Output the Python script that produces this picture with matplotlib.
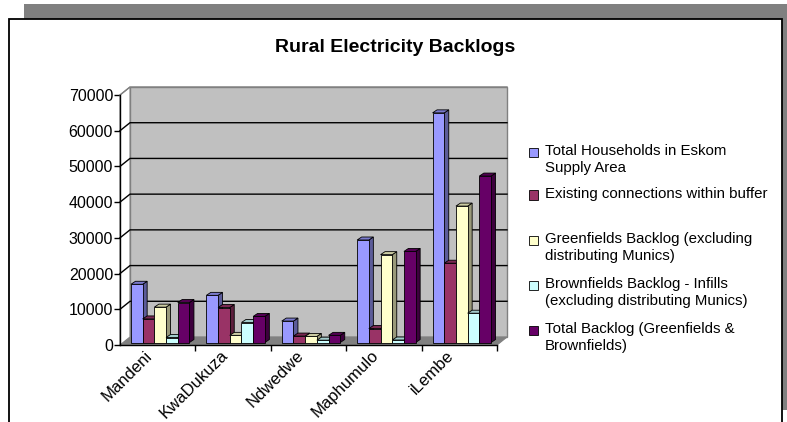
import numpy as np
import matplotlib.pyplot as plt
from matplotlib.patches import Rectangle, Polygon
from matplotlib.colors import to_rgb

plt.rcParams['font.family'] = ['Liberation Sans', 'DejaVu Sans']

regions = ['Mandeni', 'KwaDukuza', 'Ndwedwe', 'Maphumulo', 'iLembe']
total_households = [16300, 13200, 6000, 28700, 64300]
existing_connections = [6600, 9800, 1800, 3900, 22200]
greenfields_backlog = [9900, 2000, 1700, 24600, 38200]
brownfields_backlog = [1400, 5600, 650, 700, 8200]
total_backlog = [11200, 7300, 2000, 25500, 46600]

series_labels = [
    'Total Households in Eskom\nSupply Area',
    'Existing connections within buffer',
    'Greenfields Backlog (excluding\ndistributing Munics)',
    'Brownfields Backlog - Infills\n(excluding distributing Munics)',
    'Total Backlog (Greenfields &\nBrownfields)',
]
series = [total_households, existing_connections, greenfields_backlog,
          brownfields_backlog, total_backlog]
colors = ['#9999FF', '#993366', '#FFFFCC', '#CCFFFF', '#660066']

W, H, DPI = 787, 422, 100
fig = plt.figure(figsize=(W / DPI, H / DPI), dpi=DPI)


def px_rect(x0, y0, x1, y1):
    # pixel box (origin top-left) -> figure fraction [l, b, w, h]
    return [x0 / W, 1 - y1 / H, (x1 - x0) / W, (y1 - y0) / H]


# chart frame with drop shadow
l, b, w, h = px_rect(24, 4, 787, 410)
fig.add_artist(Rectangle((l, b), w, h, transform=fig.transFigure,
                         facecolor='#808080', edgecolor='none', zorder=-2))
l, b, w, h = px_rect(9, 19, 782, 440)
fig.add_artist(Rectangle((l, b), w, h, transform=fig.transFigure,
                         facecolor='white', edgecolor='black', lw=1.3, zorder=-1))

fig.text(395 / W, 1 - 47 / H, 'Rural Electricity Backlogs', ha='center', va='center',
         fontsize=14, fontweight='bold')

# front plane of the plot area
ax_l, ax_t, ax_r, ax_b = 120, 95, 497, 345
ax = fig.add_axes(px_rect(ax_l, ax_t, ax_r, ax_b))
ymax = 70000
ncat = len(regions)
ax.set_xlim(0, ncat)
ax.set_ylim(0, ymax)
ax.patch.set_visible(False)
for s in ['top', 'right']:
    ax.spines[s].set_visible(False)
for s in ['left', 'bottom']:
    ax.spines[s].set_color('black')
    ax.spines[s].set_linewidth(1.0)
    ax.spines[s].set_zorder(30)

# data units per pixel
sx = ncat / (ax_r - ax_l)
sy = ymax / (ax_b - ax_t)

# wall depth
WX, WY = 10 * sx, 8 * sy
ax.add_patch(Polygon([(WX, WY), (ncat + WX, WY), (ncat + WX, ymax + WY), (WX, ymax + WY)],
                     facecolor='#C0C0C0', edgecolor='#808080', lw=1.0, zorder=1, clip_on=False))
ax.add_patch(Polygon([(0, 0), (ncat, 0), (ncat + WX, WY), (WX, WY)],
                     facecolor='#808080', edgecolor='#808080', lw=0.8, zorder=1, clip_on=False))
ax.add_patch(Polygon([(0, 0), (WX, WY), (WX, ymax + WY), (0, ymax)],
                     facecolor='white', edgecolor='#808080', lw=0.8, zorder=1, clip_on=False))

yticks = np.arange(0, ymax + 1, 10000)
for yv in yticks[1:]:
    col = '#808080' if yv == ymax else 'black'
    ax.plot([0, WX, ncat + WX], [yv, yv + WY, yv + WY], color=col, lw=1.0,
            zorder=2, clip_on=False)

# bars
nser = len(series)
BW = 11.7 * sx
G0 = (1 - nser * BW) / 2
BX0, BY0 = 2.5 * sx, 2.5 * sy
DX, DY = 4.5 * sx, 3.0 * sy
for i, (vals, c) in enumerate(zip(series, colors)):
    rgb = np.array(to_rgb(c))
    side_c = rgb * 0.6
    top_c = rgb * 0.8
    xs = np.arange(ncat) + G0 + i * BW + BX0
    for x, v in zip(xs, vals):
        top = BY0 + v
        ax.add_patch(Polygon([(x + BW, BY0), (x + BW + DX, BY0 + DY),
                              (x + BW + DX, top + DY), (x + BW, top)],
                             facecolor=side_c, edgecolor='black', lw=0.6,
                             zorder=10 + 3 * i + 1, clip_on=False))
        ax.add_patch(Polygon([(x, top), (x + DX, top + DY),
                              (x + BW + DX, top + DY), (x + BW, top)],
                             facecolor=top_c, edgecolor='black', lw=0.6,
                             zorder=10 + 3 * i + 1, clip_on=False))
    ax.bar(xs, vals, width=BW, bottom=BY0, align='edge', color=c,
           edgecolor='black', lw=0.6, zorder=10 + 3 * i + 2, clip_on=False)

ax.set_yticks(yticks)
ax.set_yticklabels([str(v) for v in yticks])
ax.tick_params(axis='y', length=4, width=1.0, pad=1, labelsize=11.5, colors='black')

ax.set_xticks(np.arange(1, ncat + 1), minor=True)
ax.set_xticks(np.arange(ncat) + 0.5 - 13 * sx)
ax.set_xticklabels(regions, rotation=45, ha='right', va='top', rotation_mode='anchor')
ax.tick_params(axis='x', which='major', length=0, pad=2, labelsize=12)
ax.tick_params(axis='x', which='minor', length=4, width=1.0)

# legend
leg_y = [152, 195, 240, 285, 330]
for lab, c, yc in zip(series_labels, colors, leg_y):
    l, b, w, h = px_rect(529, yc - 4.5, 538, yc + 4.5)
    fig.add_artist(Rectangle((l, b), w, h, transform=fig.transFigure,
                             facecolor=c, edgecolor='black', lw=0.6, zorder=5))
    fig.text(545 / W, 1 - (yc - 8) / H, lab, ha='left', va='top', fontsize=10.8,
             linespacing=1.3, zorder=5)

fig.savefig('out.png', dpi=DPI)
